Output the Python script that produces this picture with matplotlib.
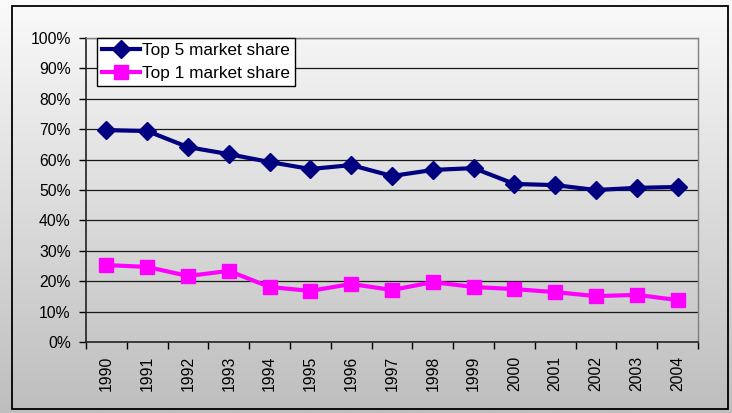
import numpy as np
import matplotlib
matplotlib.use("Agg")
import matplotlib.pyplot as plt
from matplotlib.colors import LinearSegmentedColormap
from matplotlib.patches import Rectangle
from matplotlib.ticker import PercentFormatter

plt.rcParams['font.family'] = ['Liberation Sans', 'DejaVu Sans']

# datos
years = ['1990', '1991', '1992', '1993', '1994', '1995', '1996', '1997',
         '1998', '1999', '2000', '2001', '2002', '2003', '2004']
top5 = [0.697, 0.694, 0.641, 0.618, 0.592, 0.569, 0.582, 0.546,
        0.566, 0.572, 0.520, 0.516, 0.500, 0.507, 0.510]
top1 = [0.253, 0.247, 0.217, 0.234, 0.181, 0.168, 0.191, 0.171,
        0.197, 0.181, 0.174, 0.164, 0.151, 0.155, 0.138]

fig = plt.figure(figsize=(7.32, 4.13), dpi=100)

# fondo degradado de toda la figura
bg = fig.add_axes([0, 0, 1, 1], zorder=-1)
cmap = LinearSegmentedColormap.from_list('bg', ['#fafafa', '#bebebe'])
grad = np.linspace(0, 1, 256).reshape(-1, 1)
bg.imshow(grad, aspect='auto', cmap=cmap, extent=[0, 1, 0, 1])
bg.set_axis_off()

# borde exterior
fig.add_artist(Rectangle((12 / 732, 4 / 413), 716 / 732, 403 / 413,
                         transform=fig.transFigure, fill=False,
                         edgecolor='black', lw=1.3))

ax = fig.add_axes([86 / 732, 71 / 413, 612 / 732, 304 / 413])
ax.patch.set_alpha(0)

x = np.arange(len(years))
ax.plot(x, top5, color='#000080', lw=3, marker='D', ms=9,
        label='Top 5 market share', zorder=3)
ax.plot(x, top1, color='#ff00ff', lw=3, marker='s', ms=10.5,
        label='Top 1 market share', zorder=3)

ax.set_xlim(-0.5, len(years) - 0.5)
ax.set_ylim(0, 1)
ax.set_yticks(np.arange(0, 1.01, 0.1))
ax.yaxis.set_major_formatter(PercentFormatter(1.0, decimals=0))
ax.set_xticks(x)
ax.set_xticklabels(years, rotation=90, fontsize=11.3)
ax.set_xticks(np.arange(-0.5, len(years)), minor=True)
ax.tick_params(axis='x', which='major', length=0, pad=10)
ax.tick_params(axis='x', which='minor', length=5, width=1, direction='out')
ax.tick_params(axis='y', length=5, width=1, direction='out', labelsize=11.3, pad=6)

# líneas de cuadrícula
for v in np.arange(0.1, 1.01, 0.1):
    ax.axhline(v, color='#1a1a1a', lw=0.9, zorder=1)

for s in ['left', 'bottom']:
    ax.spines[s].set_color('#222222')
    ax.spines[s].set_linewidth(1.2)
for s in ['top', 'right']:
    ax.spines[s].set_color('#808080')
    ax.spines[s].set_linewidth(1)

leg = ax.legend(loc='upper left', bbox_to_anchor=(0.018, 1.0), borderaxespad=0,
                fontsize=12.4, frameon=True, fancybox=False, framealpha=1,
                edgecolor='black', handlelength=2.2, handletextpad=0.1,
                labelspacing=0.45, borderpad=0.3)
leg.get_frame().set_linewidth(1)
leg.set_zorder(5)

fig.savefig('out.png', dpi=100)
